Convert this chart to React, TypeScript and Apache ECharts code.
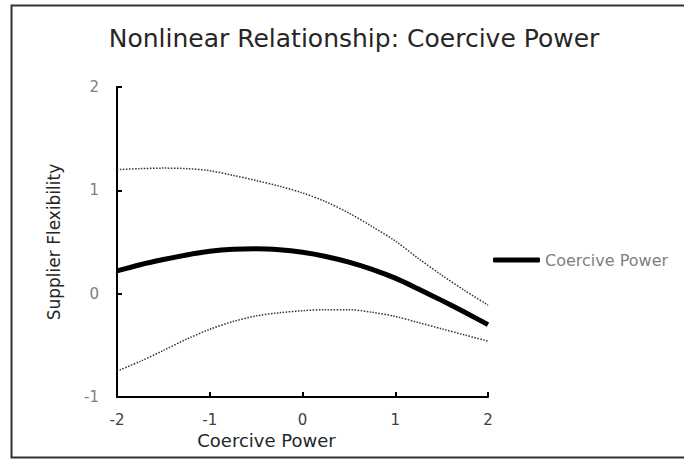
import React, { useEffect, useRef } from "react";
import * as echarts from "echarts";

const titleText = "Nonlinear Relationship: Coercive Power";
const xName = "Coercive Power";
const yName = "Supplier Flexibility";
const seriesName = "Coercive Power";

const xValues = [-2, -1.75, -1.5, -1.25, -1, -0.75, -0.5, -0.25, 0, 0.25, 0.5, 0.75, 1, 1.25, 1.5, 1.75, 2];
const mainValues = [0.22, 0.28, 0.33, 0.375, 0.41, 0.43, 0.435, 0.425, 0.4, 0.36, 0.305, 0.235, 0.15, 0.045, -0.065, -0.18, -0.3];
const upperValues = [1.2, 1.21, 1.215, 1.21, 1.19, 1.145, 1.095, 1.04, 0.975, 0.89, 0.78, 0.65, 0.51, 0.34, 0.18, 0.03, -0.11];
const lowerValues = [-0.75, -0.655, -0.55, -0.44, -0.345, -0.27, -0.215, -0.185, -0.165, -0.155, -0.155, -0.18, -0.22, -0.28, -0.34, -0.4, -0.46];

const FONT = "DejaVu Sans";

function pairs(ys: number[]) {
  return xValues.map((x, i) => [x, ys[i]]);
}

export default function App() {
  const ref = useRef<HTMLDivElement>(null);
  useEffect(() => {
    if (!ref.current) return;
    const chart = echarts.init(ref.current, null, { renderer: "svg" });
    chart.setOption({
      animation: false,
      backgroundColor: "#ffffff",
      textStyle: { fontFamily: FONT },
      title: {
        text: titleText,
        left: 349,
        textAlign: "center",
        top: 21,
        textStyle: { fontFamily: FONT, fontSize: 25, fontWeight: "normal", color: "#262626" },
      },
      graphic: [
        {
          type: "rect",
          z: -10,
          shape: { x: 11.5, y: 5.5, width: 720, height: 452 },
          style: { fill: "none", stroke: "#333333", lineWidth: 2 },
        },
      ],
      legend: {
        data: [seriesName],
        left: 488,
        top: 246,
        icon: "roundRect",
        itemWidth: 47,
        itemHeight: 5,
        textStyle: { fontFamily: FONT, fontSize: 16, color: "#7f7f7f", lineHeight: 18 },
      },
      grid: { left: 117, top: 87, width: 371, height: 310 },
      xAxis: {
        type: "value",
        min: -2,
        max: 2,
        interval: 1,
        name: xName,
        nameLocation: "middle",
        nameGap: 32,
        nameTextStyle: { fontFamily: FONT, fontSize: 18, color: "#262626", padding: [0, 72, 0, 0] },
        axisLine: { show: true, onZero: false, lineStyle: { color: "#000", width: 2 } },
        axisTick: { show: true, inside: true, length: 5, lineStyle: { color: "#000", width: 2 } },
        axisLabel: { margin: 15, fontFamily: FONT, fontSize: 15, color: "#404040" },
        splitLine: { show: false },
      },
      yAxis: {
        type: "value",
        min: -1,
        max: 2,
        interval: 1,
        name: yName,
        nameLocation: "middle",
        nameGap: 55,
        nameRotate: 90,
        nameTextStyle: { fontFamily: FONT, fontSize: 17, color: "#262626" },
        axisLine: { show: true, onZero: false, lineStyle: { color: "#000", width: 2 } },
        axisTick: { show: true, inside: true, length: 5, lineStyle: { color: "#000", width: 2 } },
        axisLabel: { margin: 18, fontFamily: FONT, fontSize: 15, color: "#808080" },
        splitLine: { show: false },
      },
      series: [
        {
          name: seriesName,
          type: "line",
          data: pairs(mainValues),
          smooth: 0.3,
          showSymbol: false,
          symbol: "none",
          lineStyle: { color: "#000", width: 5 },
          itemStyle: { color: "#000" },
          z: 3,
        },
        {
          name: "Upper",
          type: "line",
          data: pairs(upperValues),
          smooth: 0.3,
          showSymbol: false,
          symbol: "none",
          lineStyle: { color: "#333333", width: 1.5, type: [1.5, 1.5] },
        },
        {
          name: "Lower",
          type: "line",
          data: pairs(lowerValues),
          smooth: 0.3,
          showSymbol: false,
          symbol: "none",
          lineStyle: { color: "#333333", width: 1.5, type: [1.5, 1.5] },
        },
      ],
    });
    return () => chart.dispose();
  }, []);
  return (
    <div
      ref={ref}
      style={{ position: "fixed", left: 0, top: 0, width: 684, height: 460 }}
    />
  );
}
